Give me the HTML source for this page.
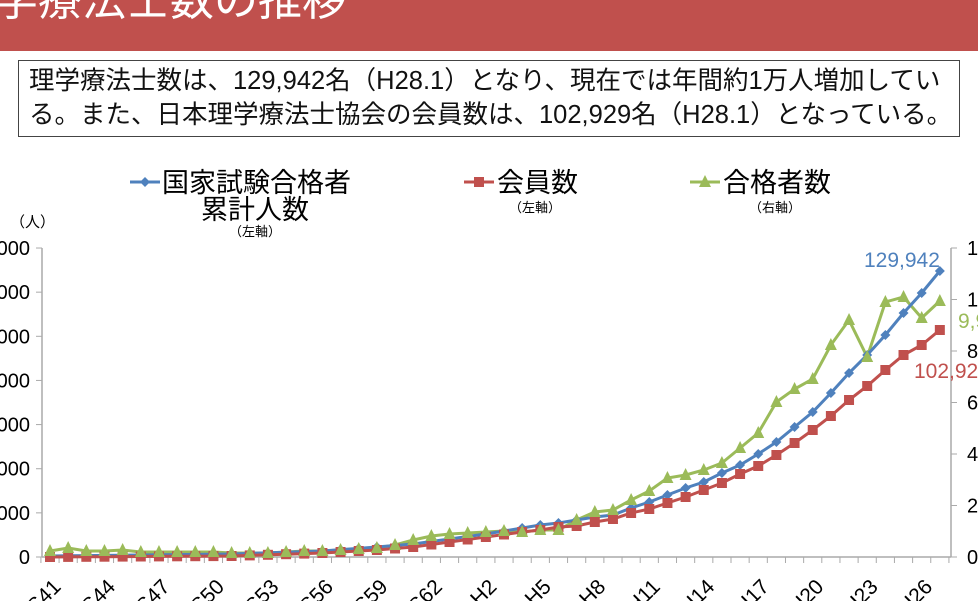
<!DOCTYPE html>
<html><head><meta charset="utf-8"><style>
html,body{margin:0;padding:0;width:978px;height:601px;overflow:hidden;background:#fff}
body{position:relative;font-family:"Liberation Sans","Noto Sans CJK JP",sans-serif}
.hdr{position:absolute;left:0;top:0;width:978px;height:51px;background:#C0504D;overflow:hidden}
.hdr span{position:absolute;left:-50px;top:-36px;color:#fff;font-size:44px;white-space:nowrap}
.box{position:absolute;left:18px;top:60px;width:942px;height:77px;border:1.5px solid #444;box-sizing:border-box;font-size:25.5px;line-height:34px;padding:3px 0 0 10px;color:#111;white-space:nowrap}
</style></head><body>
<div class="hdr"><span>理学療法士数の推移</span></div>
<div class="box">理学療法士数は、129,942名（H28.1）となり、現在では年間約1万人増加してい<br>る。また、日本理学療法士協会の会員数は、102,929名（H28.1）となっている。</div>
<svg id="c" width="978" height="601" style="position:absolute;left:0;top:0" xmlns="http://www.w3.org/2000/svg"></svg>
<script>
var s=document.getElementById('c'),h='';
var F='font-family="Liberation Sans,Noto Sans CJK JP,sans-serif"';
h+='<line x1="42" y1="248" x2="42" y2="557" stroke="#aaa" stroke-width="1.5"/>';
h+='<line x1="42" y1="557" x2="951" y2="557" stroke="#aaa" stroke-width="1.5"/>';
h+='<line x1="951" y1="248" x2="951" y2="557" stroke="#aaa" stroke-width="1.5"/>';
for(var i=0;i<=7;i++){var y=557-i*44.14;h+='<line x1="36" y1="'+y+'" x2="42" y2="'+y+'" stroke="#aaa"/>';
h+='<text x="30" y="'+(y+7)+'" text-anchor="end" font-size="20" '+F+'>'+(i*20000)+'</text>';}
for(var i=0;i<=6;i++){var y=557-i*51.5;h+='<line x1="951" y1="'+y+'" x2="957" y2="'+y+'" stroke="#aaa"/>';
h+='<text x="967" y="'+(y+7)+'" font-size="20" '+F+'>'+(i*2000)+'</text>';}
var dx=18.16,x0=50;
for(var i=0;i<=50;i++){var x=x0-dx/2+i*dx;h+='<line x1="'+x+'" y1="557" x2="'+x+'" y2="563" stroke="#aaa"/>';}
var lab=['S41','S44','S47','S50','S53','S56','S59','S62','H2','H5','H8','H11','H14','H17','H20','H23','H26'];
for(var k=0;k<lab.length;k++){var x=x0+k*3*dx+12;h+='<text x="'+x+'" y="588" text-anchor="end" font-size="21" '+F+' transform="rotate(-45 '+x+' 588)">'+lab[k]+'</text>';}
function interp(pts){var a=[];for(var i=0;i<pts.length-1;i++){var p=pts[i],q=pts[i+1];for(var j=p[0];j<q[0];j++)a.push(p[1]+(q[1]-p[1])*(j-p[0])/(q[0]-p[0]));}a.push(pts[pts.length-1][1]);return a;}
var g=[551,548,551,551,550,552,552,552,552,552,553,553,553,552,551,551,550,549,548,545,540,536,534,533,532,531,532,530,530,520,512,510,500,491,478,475,470,463,448,433,402,389,379,345,320,357,302,297,318,301];
var b=interp([[0,556],[10,554],[15,551],[18,547],[20,544],[22,539],[24,534],[26,528]]).concat([525,523,520,517,515,508,502,495,488,482,473,465,454,442,427,412,393,373,355,335,313,293,271]);
var r=interp([[0,557],[10,556],[15,553],[18,550],[20,547],[22,542],[24,537],[26,532]]).concat([530,527,526,522,519,513,509,503,497,490,483,474,466,455,443,430,416,400,386,370,355,345,330]);
function line(a,c){var p=a.map(function(y,i){return (x0+i*dx).toFixed(1)+','+y}).join(' ');return '<polyline points="'+p+'" fill="none" stroke="'+c+'" stroke-width="3"/>';}
var B='#4F81BD',R='#C0504D',G='#9BBB59';
h+=line(g,G)+line(b,B)+line(r,R);
function tri(x,y){return '<polygon points="'+x+','+(y-7)+' '+(x-6)+','+(y+5)+' '+(x+6)+','+(y+5)+'" fill="'+G+'"/>';}
function dia(x,y){return '<polygon points="'+x+','+(y-5)+' '+(x+5)+','+y+' '+x+','+(y+5)+' '+(x-5)+','+y+'" fill="'+B+'"/>';}
function sq(x,y){return '<rect x="'+(x-5)+'" y="'+(y-5)+'" width="10" height="10" fill="'+R+'"/>';}
for(var i=0;i<50;i++){var x=x0+i*dx;h+=dia(x,b[i]);}
for(var i=0;i<50;i++){var x=x0+i*dx;h+=sq(x,r[i]);}
for(var i=0;i<50;i++){var x=x0+i*dx;h+=tri(x,g[i]);}
h+='<text x="864" y="267" font-size="21" fill="'+B+'" '+F+'>129,942</text>';
h+='<text x="958" y="328" font-size="21" fill="'+G+'" '+F+'>9,952</text>';
h+='<text x="914" y="378" font-size="21" fill="'+R+'" '+F+'>102,929</text>';
h+='<line x1="130" y1="182" x2="160" y2="182" stroke="'+B+'" stroke-width="3"/>'+dia(145,182);
h+='<text x="162" y="192" font-size="27" '+F+'>国家試験合格者</text>';
h+='<text x="255" y="219" font-size="27" text-anchor="middle" '+F+'>累計人数</text>';
h+='<text x="255" y="236" font-size="13" text-anchor="middle" '+F+'>（左軸）</text>';
h+='<line x1="464" y1="182" x2="494" y2="182" stroke="'+R+'" stroke-width="3"/>'+sq(479,182);
h+='<text x="497" y="192" font-size="27" '+F+'>会員数</text>';
h+='<text x="535" y="212" font-size="13" text-anchor="middle" '+F+'>（左軸）</text>';
h+='<line x1="690" y1="182" x2="720" y2="182" stroke="'+G+'" stroke-width="3"/>'+tri(705,182);
h+='<text x="723" y="192" font-size="27" '+F+'>合格者数</text>';
h+='<text x="775" y="212" font-size="13" text-anchor="middle" '+F+'>（右軸）</text>';
h+='<text x="10" y="227" font-size="15" '+F+'>（人）</text>';
s.innerHTML=h;
</script>
</body></html>
